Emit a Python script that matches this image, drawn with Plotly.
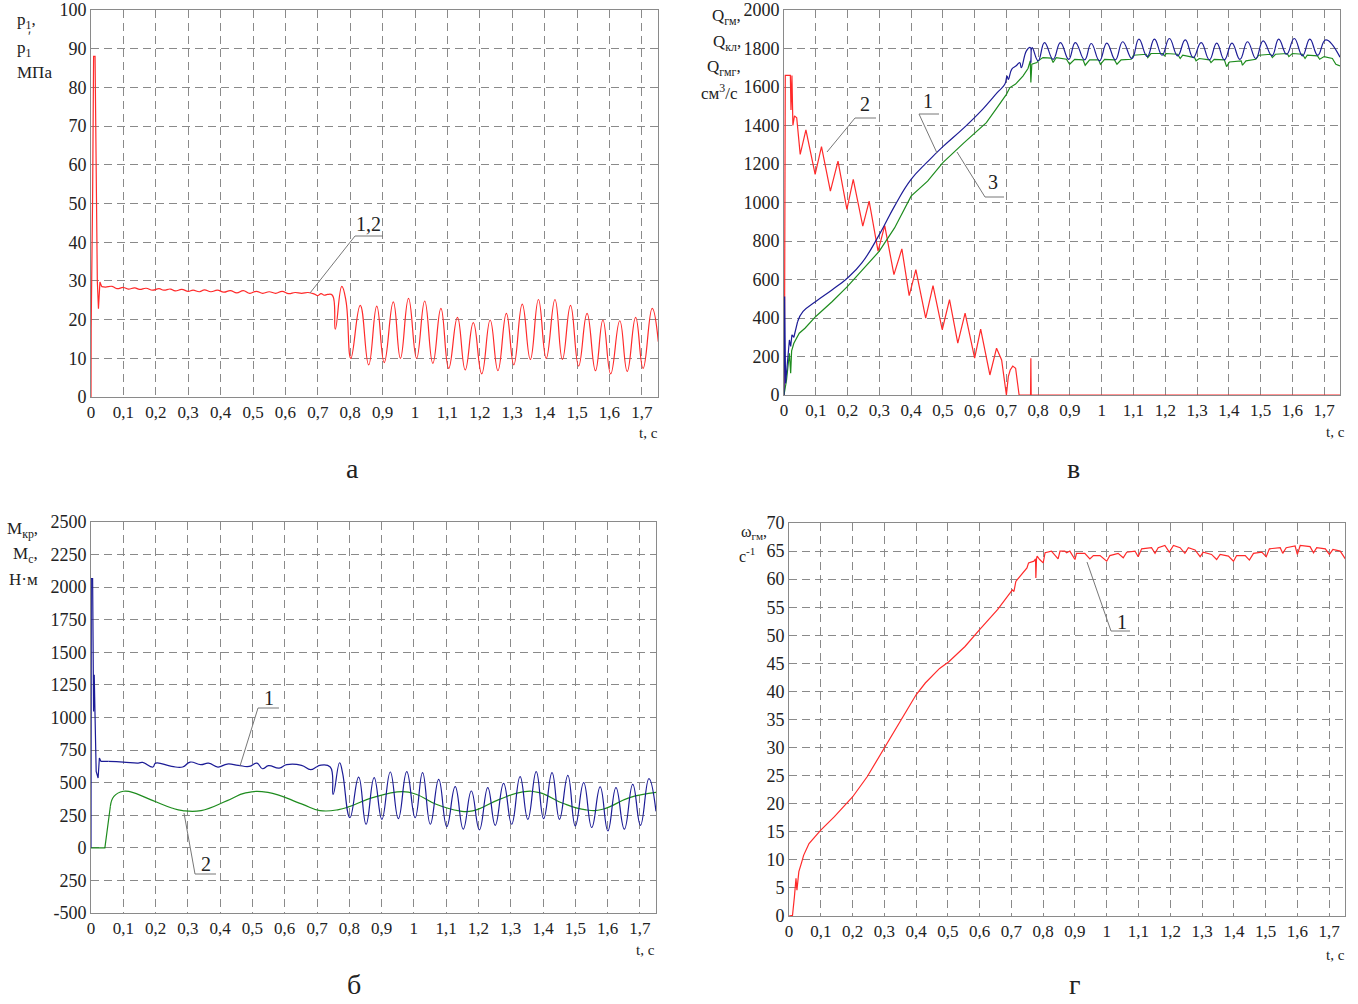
import plotly.graph_objects as go

W, H = 1358, 1004

# ---------------- data (t in s) ----------------
# (a) pressure p1, MPa  -- curve "1,2"
P1 = [(0, 0), (0.0005, 17.7), (0.005, 52), (0.008, 88), (0.0125, 88), (0.015, 64), (0.0195, 30),
      (0.023, 22.8), (0.0276, 29.7), (0.033, 28.5), (0.045, 28.4), (0.065, 28.6), (0.08, 28.0),
      (0.1, 28.3), (0.115, 27.9), (0.135, 28.2), (0.15, 27.8), (0.17, 28.1), (0.19, 27.6),
      (0.21, 28.0), (0.225, 27.6), (0.245, 27.9), (0.26, 27.4), (0.28, 27.8), (0.3, 27.3),
      (0.315, 27.6), (0.335, 27.2), (0.35, 27.7), (0.37, 27.2), (0.39, 27.6), (0.41, 27.1),
      (0.43, 27.5), (0.45, 26.9), (0.47, 27.5), (0.49, 26.8), (0.51, 27.3), (0.53, 26.8),
      (0.55, 27.2), (0.57, 26.8), (0.59, 27.3), (0.61, 26.7), (0.63, 27.0), (0.65, 26.8),
      (0.67, 27.0), (0.69, 26.6), (0.70, 26.2), (0.71, 26.7), (0.72, 26.3), (0.73, 26.5),
      (0.745, 26.3), (0.754, 17.5), (0.774, 28.6), (0.787, 24.8), (0.802, 10), (0.831, 23.7),
      (0.857, 8.3), (0.882, 23.5), (0.905, 8.9), (0.933, 24.6), (0.955, 10), (0.980, 25.5),
      (1.005, 10), (1.030, 24.8), (1.055, 8.7), (1.080, 22.9), (1.104, 7.4), (1.131, 20.6),
      (1.155, 7.0), (1.180, 19.2), (1.206, 6.0), (1.232, 19.9), (1.256, 6.8), (1.282, 21.6),
      (1.305, 8.3), (1.331, 24.0), (1.356, 9.7), (1.381, 25.2), (1.405, 10), (1.432, 25.2),
      (1.455, 9.7), (1.480, 23.7), (1.505, 8.0), (1.531, 21.6), (1.557, 6.8), (1.580, 19.9),
      (1.604, 6.0), (1.632, 19.7), (1.655, 6.6), (1.681, 20.6), (1.704, 7.4), (1.732, 22.9),
      (1.751, 14.3)]

# (в) flows, cm3/s
Q_GM = [(0, 0), (0.002, 512), (0.005, 60), (0.012, 217), (0.017, 286), (0.021, 252), (0.025, 312),
        (0.031, 300), (0.043, 382), (0.06, 434), (0.1, 486), (0.152, 547), (0.2, 608), (0.245, 686),
        (0.3, 833), (0.348, 981), (0.4, 1120), (0.452, 1212), (0.5, 1290), (0.567, 1389),
        (0.625, 1484), (0.648, 1527), (0.671, 1571), (0.695, 1614), (0.702, 1657), (0.706, 1640),
        (0.717, 1693), (0.731, 1710), (0.742, 1727), (0.747, 1700), (0.763, 1788), (0.775, 1805),
        (0.777, 1727), (0.781, 1805), (0.8, 1736), (0.82, 1831), (0.847, 1744), (0.87, 1831),
        (0.896, 1744), (0.917, 1831), (0.946, 1741), (0.967, 1826), (0.993, 1736), (1.016, 1828),
        (1.043, 1741), (1.066, 1835), (1.095, 1748), (1.117, 1849), (1.143, 1758), (1.166, 1849),
        (1.19, 1765), (1.213, 1852), (1.239, 1762), (1.263, 1845), (1.288, 1753), (1.313, 1831),
        (1.339, 1741), (1.362, 1828), (1.386, 1741), (1.41, 1828), (1.435, 1744), (1.459, 1835),
        (1.485, 1748), (1.508, 1840), (1.536, 1762), (1.557, 1849), (1.582, 1770), (1.606, 1852),
        (1.632, 1762), (1.655, 1849), (1.68, 1765), (1.705, 1845), (1.75, 1755)]

Q_KL = [(0, 0), (0.002, 500), (0.004, 1660), (0.02, 1660), (0.022, 1480), (0.025, 1660),
        (0.028, 1400), (0.033, 1450), (0.04, 1440), (0.051, 1250), (0.069, 1377), (0.098, 1146),
        (0.118, 1290), (0.146, 1059), (0.17, 1215), (0.198, 964), (0.218, 1120), (0.248, 877),
        (0.268, 1007), (0.296, 747), (0.317, 880), (0.346, 625), (0.371, 759), (0.394, 516),
        (0.415, 651), (0.446, 399), (0.469, 568), (0.498, 339), (0.521, 495), (0.547, 269),
        (0.57, 425), (0.6, 191), (0.619, 342), (0.648, 104), (0.669, 243), (0.685, 182),
        (0.7, 0), (0.706, 95), (0.712, 130), (0.72, 150), (0.729, 139), (0.74, 0), (0.776, 0),
        (0.777, 191), (0.778, 0), (1.75, 0)]

Q_GMG = [(0, 0), (0.008, 78), (0.017, 217), (0.021, 113), (0.024, 230), (0.031, 269), (0.048, 321),
         (0.066, 347), (0.1, 408), (0.152, 486), (0.2, 564), (0.256, 668), (0.3, 747), (0.348, 868),
         (0.4, 1033), (0.452, 1111), (0.5, 1207), (0.567, 1311), (0.637, 1415), (0.669, 1489),
         (0.7, 1562), (0.711, 1597), (0.729, 1615), (0.752, 1657), (0.768, 1696), (0.775, 1736),
         (0.777, 1623), (0.78, 1719), (0.796, 1727), (0.8, 1736), (0.815, 1753), (0.841, 1750),
         (0.847, 1727), (0.857, 1753), (0.889, 1744), (0.899, 1718), (0.915, 1744), (0.941, 1741),
         (0.948, 1713), (0.962, 1741), (0.99, 1741), (0.996, 1718), (1.009, 1744), (1.04, 1741),
         (1.048, 1718), (1.061, 1741), (1.093, 1744), (1.1, 1765), (1.14, 1770), (1.145, 1753),
         (1.155, 1774), (1.192, 1774), (1.197, 1762), (1.203, 1774), (1.239, 1770), (1.247, 1748),
         (1.255, 1765), (1.292, 1753), (1.297, 1736), (1.307, 1748), (1.339, 1741), (1.344, 1727),
         (1.354, 1744), (1.386, 1741), (1.393, 1706), (1.402, 1730), (1.439, 1736), (1.443, 1713),
         (1.454, 1736), (1.485, 1744), (1.494, 1765), (1.532, 1770), (1.537, 1753), (1.547, 1770),
         (1.584, 1774), (1.589, 1758), (1.6, 1774), (1.632, 1770), (1.64, 1748), (1.647, 1765),
         (1.679, 1762), (1.686, 1744), (1.7, 1758), (1.726, 1748), (1.737, 1718), (1.75, 1710)]

# (б) torques, N*m
M_KR = [(0, 0), (0.001, 2066), (0.005, 2066), (0.008, 1046), (0.010, 1327), (0.013, 765),
        (0.016, 587), (0.022, 536), (0.026, 689), (0.031, 663), (0.054, 663), (0.1, 658),
        (0.146, 650), (0.16, 655), (0.192, 620), (0.2, 650), (0.25, 625), (0.284, 620),
        (0.307, 658), (0.34, 638), (0.364, 650), (0.393, 620), (0.422, 643), (0.456, 633),
        (0.49, 625), (0.514, 650), (0.531, 607), (0.55, 630), (0.583, 612), (0.606, 638),
        (0.652, 633), (0.68, 600), (0.698, 620), (0.709, 633), (0.741, 620), (0.750, 410),
        (0.770, 653), (0.779, 577), (0.802, 232), (0.829, 543), (0.852, 181), (0.877, 538),
        (0.901, 219), (0.927, 582), (0.952, 224), (0.978, 584), (1.004, 232), (1.027, 577),
        (1.051, 181), (1.077, 525), (1.102, 163), (1.128, 469), (1.153, 143), (1.178, 436),
        (1.203, 138), (1.229, 462), (1.252, 173), (1.278, 495), (1.303, 181), (1.329, 546),
        (1.353, 219), (1.379, 584), (1.402, 224), (1.428, 577), (1.451, 219), (1.477, 556),
        (1.500, 168), (1.526, 500), (1.551, 156), (1.577, 467), (1.601, 130), (1.626, 462),
        (1.652, 143), (1.678, 487), (1.702, 173), (1.728, 531), (1.75, 280)]

M_C = [(0, 0), (0.043, 0), (0.06, 319), (0.071, 395), (0.1, 434), (0.123, 429), (0.192, 362),
       (0.25, 306), (0.284, 286), (0.341, 286), (0.422, 362), (0.479, 421), (0.548, 426),
       (0.652, 337), (0.709, 286), (0.767, 293), (0.8, 316), (0.872, 385), (0.965, 431),
       (1.007, 411), (1.069, 334), (1.141, 283), (1.182, 283), (1.265, 372), (1.337, 429),
       (1.389, 423), (1.461, 342), (1.533, 291), (1.585, 296), (1.668, 385), (1.75, 425)]

# (г) angular speed, 1/s
OMEGA = [(0, 0), (0.011, 0.1), (0.017, 3.4), (0.022, 6.7), (0.025, 4.6), (0.029, 6.7), (0.031, 7.9),
         (0.04, 9.6), (0.046, 10.8), (0.063, 12.9), (0.086, 14.4), (0.1, 15.3), (0.143, 17.7),
         (0.177, 19.8), (0.2, 21.2), (0.246, 24.8), (0.3, 29.9), (0.349, 34.6), (0.4, 39.4),
         (0.429, 41.5), (0.474, 44.1), (0.503, 45.3), (0.554, 48.0), (0.6, 51.0), (0.657, 54.6),
         (0.703, 58.1), (0.708, 57.8), (0.714, 59.6), (0.737, 61.1), (0.749, 62.0), (0.754, 62.9),
         (0.771, 63.2), (0.776, 63.6), (0.777, 60.2), (0.779, 63.6), (0.781, 64.1), (0.789, 63.5),
         (0.8, 62.9), (0.806, 64.7), (0.826, 65), (0.847, 63.6), (0.853, 65), (0.868, 65),
         (0.874, 64.7), (0.884, 65), (0.9, 63.5), (0.905, 64.6), (0.931, 64.6), (0.947, 63.6),
         (0.958, 64.2), (0.979, 64.2), (1.0, 63.2), (1.01, 64.2), (1.036, 64.6), (1.052, 63.8),
         (1.063, 64.8), (1.089, 65), (1.099, 64), (1.11, 65.4), (1.141, 65.6), (1.152, 64.6),
         (1.162, 65.6), (1.183, 66), (1.197, 64.8), (1.21, 66), (1.231, 65.6), (1.246, 64.6),
         (1.257, 65.6), (1.278, 65.2), (1.294, 64), (1.304, 64.8), (1.33, 64.4), (1.346, 63.5),
         (1.357, 64.4), (1.383, 64.1), (1.399, 63.2), (1.409, 64.2), (1.436, 64.2), (1.449, 63.4),
         (1.462, 64.6), (1.488, 64.8), (1.502, 64), (1.512, 65.4), (1.546, 65.6), (1.554, 64.6),
         (1.565, 65.6), (1.593, 65.9), (1.6, 64.4), (1.609, 66), (1.64, 65.8), (1.651, 64.7),
         (1.661, 65.6), (1.688, 65.4), (1.701, 64.4), (1.712, 65.3), (1.735, 65), (1.751, 63.6)]

T_TICKS = [0, 0.1, 0.2, 0.3, 0.4, 0.5, 0.6, 0.7, 0.8, 0.9, 1, 1.1, 1.2, 1.3, 1.4, 1.5, 1.6, 1.7]
T_TEXT = ["0", "0,1", "0,2", "0,3", "0,4", "0,5", "0,6", "0,7", "0,8", "0,9",
          "1", "1,1", "1,2", "1,3", "1,4", "1,5", "1,6", "1,7"]
P_TICKS = [0, 10, 20, 30, 40, 50, 60, 70, 80, 90, 100]
Q_TICKS = [0, 200, 400, 600, 800, 1000, 1200, 1400, 1600, 1800, 2000]
M_TICKS = [-500, -250, 0, 250, 500, 750, 1000, 1250, 1500, 1750, 2000, 2250, 2500]
M_TEXT = ["-500", "250", "0", "250", "500", "750", "1000", "1250", "1500", "1750", "2000", "2250", "2500"]
W_TICKS = [0, 5, 10, 15, 20, 25, 30, 35, 40, 45, 50, 55, 60, 65, 70]

# ---------------- style ----------------
FONT = "Liberation Serif, Times New Roman, serif"
RED = "#ff2a2a"
BLUE = "#1c1c96"
GREEN = "#1e8c1e"
GRID = "#8a8a8a"
FRAME = "#8a8a8a"
TXT = "#222222"


def X(px):
    return px / W


def Y(py):
    return 1 - py / H


def unz(pairs):
    return [p[0] for p in pairs], [p[1] for p in pairs]


fig = go.Figure()


def draw(pairs, xa, ya, color, shape, smooth=1.0, width=1.2):
    t, v = unz(pairs)
    line = dict(color=color, width=width, shape=shape)
    if shape == "spline":
        line["smoothing"] = smooth
    fig.add_trace(go.Scatter(x=t, y=v, xaxis=xa, yaxis=ya, mode="lines", line=line,
                             showlegend=False, hoverinfo="skip"))


def add(pairs, xa, ya, color, split=None, smooth=1.3):
    """Linear for the first `split` points (sharp start-up transient), smooth afterwards."""
    if split is None:
        draw(pairs, xa, ya, color, "linear")
    else:
        draw(pairs[:split + 1], xa, ya, color, "linear")
        draw(pairs[split:], xa, ya, color, "spline", smooth)


add(P1, "x", "y", RED, split=9)
add(Q_KL, "x2", "y2", RED)
add(Q_GMG, "x2", "y2", GREEN)
add(Q_GM, "x2", "y2", BLUE, split=8)
add(M_C, "x3", "y3", GREEN, split=2)
add(M_KR, "x3", "y3", BLUE, split=10)
add(OMEGA, "x4", "y4", RED)


def xaxis(dom, anchor):
    return dict(domain=dom, anchor=anchor, range=[0, 1.75], tickvals=T_TICKS, ticktext=T_TEXT,
                showgrid=True, gridcolor=GRID, griddash="8px,5px", gridwidth=1,
                showline=True, linecolor=FRAME, linewidth=1, mirror=True, ticks="",
                zeroline=False, automargin=False,
                tickfont=dict(family=FONT, size=17, color=TXT))


def yaxis(dom, anchor, rng, vals, text=None):
    d = dict(domain=dom, anchor=anchor, range=rng, tickvals=vals,
             showgrid=True, gridcolor=GRID, griddash="8px,5px", gridwidth=1,
             showline=True, linecolor=FRAME, linewidth=1, mirror=True, ticks="",
             zeroline=False, automargin=False,
             tickfont=dict(family=FONT, size=18, color=TXT))
    if text:
        d["ticktext"] = text
    return d


layout = dict(
    width=W, height=H, margin=dict(l=0, r=0, t=0, b=0, autoexpand=False),
    paper_bgcolor="white", plot_bgcolor="white", showlegend=False,
    xaxis=xaxis([X(91), X(658)], "y"),
    yaxis=yaxis([Y(397), Y(10)], "x", [0, 100], P_TICKS),
    xaxis2=xaxis([X(784), X(1340)], "y2"),
    yaxis2=yaxis([Y(395), Y(10)], "x2", [0, 2000], Q_TICKS),
    xaxis3=xaxis([X(91), X(656)], "y3"),
    yaxis3=yaxis([Y(913), Y(522)], "x3", [-500, 2500], M_TICKS, M_TEXT),
    xaxis4=xaxis([X(789), X(1345)], "y4"),
    yaxis4=yaxis([Y(916), Y(523)], "x4", [0, 70], W_TICKS),
)
fig.update_layout(**layout)

ann = []


def text(px, py, s, size=16, xanchor="center"):
    ann.append(dict(x=X(px), y=Y(py), xref="paper", yref="paper", text=s, showarrow=False,
                    xanchor=xanchor, yanchor="middle",
                    font=dict(family=FONT, size=size, color=TXT)))


# axis titles
text(15, 21, "p<sub>1</sub>,", 17, "left")
text(26, 37, "ʹ", 14, "left")
text(15, 49, "p<sub>1</sub>", 17, "left")
text(15, 72, "МПа", 17, "left")

text(743, 17, "Q<sub>гм</sub>,", 17, "right")
text(743, 43, "Q<sub>кл</sub>,", 17, "right")
text(743, 68, "Q<sub>гмг</sub>,", 17, "right")
text(740, 92, "см<sup>3</sup>/с", 17, "right")

text(40, 530, "M<sub>кр</sub>,", 17, "right")
text(40, 555, "M<sub>c</sub>,", 17, "right")
text(40, 579, "H·м", 17, "right")

text(769, 532, "ω<sub>гм</sub>,", 16, "right")
text(757, 555, "c<sup>-1</sup>", 16, "right")

# time labels
text(648, 433, "t, c", 15)
text(1335, 432, "t, c", 15)
text(645, 950, "t, c", 15)
text(1335, 955, "t, c", 15)

# panel letters
text(352, 468, "а", 28)
text(1073, 468, "в", 28)
text(354, 984, "б", 28)
text(1074, 984, "г", 28)

# curve labels
text(368, 224, "1,2", 20)
text(865, 104, "2", 20)
text(928, 101, "1", 20)
text(993, 182, "3", 20)
text(269, 698, "1", 20)
text(206, 864, "2", 20)
text(1122, 622, "1", 20)

fig.update_layout(annotations=ann)

LEADERS = [
    [(310, 293), (355, 236), (383, 236)],
    [(827, 152), (855, 118), (876, 118)],
    [(937, 153), (919, 114), (939, 114)],
    [(957, 152), (985, 197), (1004, 197)],
    [(240, 766), (258, 708), (279, 708)],
    [(184, 813), (195, 874), (216, 874)],
    [(1087, 562), (1111, 631), (1130, 631)],
]
shapes = []
for pts in LEADERS:
    for (x0, y0), (x1, y1) in zip(pts[:-1], pts[1:]):
        shapes.append(dict(type="line", xref="paper", yref="paper", x0=X(x0), y0=Y(y0),
                           x1=X(x1), y1=Y(y1), line=dict(color="#777777", width=1)))
fig.update_layout(shapes=shapes)

fig.write_html("out.html")
